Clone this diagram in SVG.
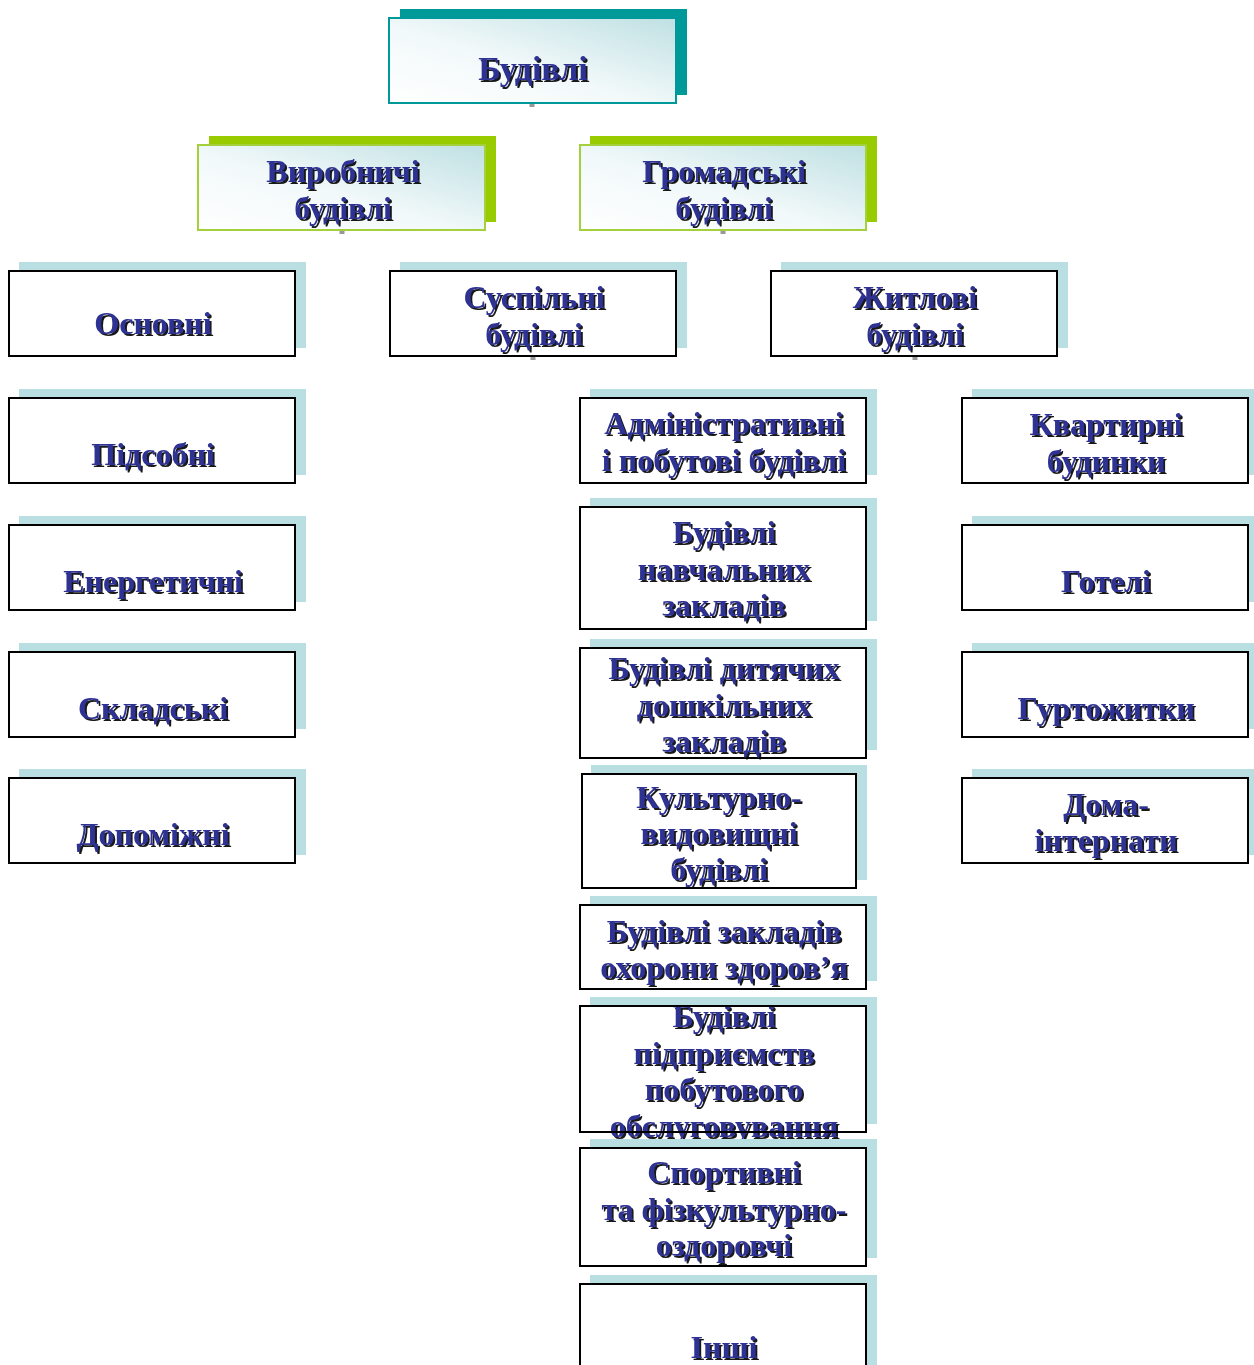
<svg xmlns="http://www.w3.org/2000/svg" width="1254" height="1365" viewBox="0 0 1254 1365">
<defs>
  <linearGradient id="grad" x1="0" y1="1" x2="1" y2="0">
    <stop offset="0" stop-color="#ffffff"/>
    <stop offset="0.45" stop-color="#f2f9fa"/>
    <stop offset="1" stop-color="#bfe0e3"/>
  </linearGradient>
  <filter id="ts" x="-5%" y="-20%" width="115%" height="150%">
    <feOffset in="SourceAlpha" dx="2" dy="2" result="off"/>
    <feFlood flood-color="#000000" flood-opacity="0.9"/>
    <feComposite in2="off" operator="in" result="sh"/>
    <feMerge><feMergeNode in="sh"/><feMergeNode in="SourceGraphic"/></feMerge>
  </filter>
  <style>
    .sh{fill:#b9dfe3}
    .box{fill:#ffffff;stroke:#000000;stroke-width:2}
    .bg{fill:#ffffff}
    .frame{fill:none;stroke:#000000;stroke-width:2}
    .tealsh{fill:#009999}
    .tealbox{fill:url(#grad);stroke:#009999;stroke-width:2}
    .greensh{fill:#99cc00}
    .greenbox{fill:url(#grad);stroke:#a4d03c;stroke-width:2}
    .lbl{font-family:"Liberation Serif","Times New Roman",serif;font-weight:bold;font-size:32px;fill:#2e3192;text-anchor:middle;filter:url(#ts)}
    .big{font-size:34px}
    .tick{stroke:#999999;stroke-width:5}
  </style>
</defs>
<rect width="1254" height="1365" fill="#ffffff"/>

<g id="connectors">
  <line class="tick" x1="532" y1="103" x2="532" y2="107"/>
  <line class="tick" x1="342" y1="230" x2="342" y2="234"/>
  <line class="tick" x1="723" y1="230" x2="723" y2="234"/>
  <line class="tick" x1="533" y1="356" x2="533" y2="360"/>
  <line class="tick" x1="915" y1="356" x2="915" y2="360"/>
</g>

<g id="n-budivli">
  <rect class="tealsh" x="400" y="9" width="287" height="86"/>
  <rect class="tealbox" x="389" y="18" width="287" height="85"/>
  <text class="lbl big" x="533" y="80">Будівлі</text>
</g>

<g id="n-vyrobnychi">
  <rect class="greensh" x="209" y="136" width="287" height="86"/>
  <rect class="greenbox" x="198" y="145" width="287" height="85"/>
  <text class="lbl" x="343" y="182">Виробничі</text>
  <text class="lbl" x="343" y="219">будівлі</text>
</g>

<g id="n-hromadski">
  <rect class="greensh" x="590" y="136" width="287" height="86"/>
  <rect class="greenbox" x="580" y="145" width="286" height="85"/>
  <text class="lbl" x="724" y="182">Громадські</text>
  <text class="lbl" x="724" y="219">будівлі</text>
</g>

<g id="n-osnovni">
  <rect class="sh" x="19" y="262" width="287" height="86"/>
  <rect class="box" x="9" y="271" width="286" height="85"/>
  <text class="lbl" x="153" y="334">Основні</text>
</g>

<g id="n-suspilni">
  <rect class="sh" x="400" y="262" width="287" height="86"/>
  <rect class="box" x="390" y="271" width="286" height="85"/>
  <text class="lbl" x="534" y="308">Суспільні</text>
  <text class="lbl" x="534" y="345">будівлі</text>
</g>

<g id="n-zhytlovi">
  <rect class="sh" x="781" y="262" width="287" height="86"/>
  <rect class="box" x="771" y="271" width="286" height="85"/>
  <text class="lbl" x="915" y="308">Житлові</text>
  <text class="lbl" x="915" y="345">будівлі</text>
</g>

<g id="n-pidsobni">
  <rect class="sh" x="19" y="389" width="287" height="86"/>
  <rect class="box" x="9" y="398" width="286" height="85"/>
  <text class="lbl" x="153" y="465">Підсобні</text>
</g>

<g id="n-enerhetychni">
  <rect class="sh" x="19" y="516" width="287" height="86"/>
  <rect class="box" x="9" y="525" width="286" height="85"/>
  <text class="lbl" x="153" y="592">Енергетичні</text>
</g>

<g id="n-skladski">
  <rect class="sh" x="19" y="643" width="287" height="86"/>
  <rect class="box" x="9" y="652" width="286" height="85"/>
  <text class="lbl" x="153" y="719">Складські</text>
</g>

<g id="n-dopomizhni">
  <rect class="sh" x="19" y="769" width="287" height="86"/>
  <rect class="box" x="9" y="778" width="286" height="85"/>
  <text class="lbl" x="153" y="845">Допоміжні</text>
</g>

<g id="n-kvartyrni">
  <rect class="sh" x="972" y="389" width="287" height="86"/>
  <rect class="box" x="962" y="398" width="286" height="85"/>
  <text class="lbl" x="1106" y="435">Квартирні</text>
  <text class="lbl" x="1106" y="472">будинки</text>
</g>

<g id="n-hoteli">
  <rect class="sh" x="972" y="516" width="287" height="86"/>
  <rect class="box" x="962" y="525" width="286" height="85"/>
  <text class="lbl" x="1106" y="592">Готелі</text>
</g>

<g id="n-hurtozhytky">
  <rect class="sh" x="972" y="643" width="287" height="86"/>
  <rect class="box" x="962" y="652" width="286" height="85"/>
  <text class="lbl" x="1106" y="719">Гуртожитки</text>
</g>

<g id="n-doma">
  <rect class="sh" x="972" y="769" width="287" height="86"/>
  <rect class="box" x="962" y="778" width="286" height="85"/>
  <text class="lbl" x="1106" y="815">Дома-</text>
  <text class="lbl" x="1106" y="851">інтернати</text>
</g>

<g id="n-admin">
  <rect class="sh" x="590" y="389" width="287" height="86"/>
  <rect class="box" x="580" y="398" width="286" height="85"/>
  <text class="lbl" x="724" y="434">Адміністративні</text>
  <text class="lbl" x="724" y="471">і побутові будівлі</text>
</g>

<g id="n-navchalni">
  <rect class="sh" x="590" y="498" width="287" height="123"/>
  <rect class="box" x="580" y="507" width="286" height="122"/>
  <text class="lbl" x="724" y="543">Будівлі</text>
  <text class="lbl" x="724" y="580">навчальних</text>
  <text class="lbl" x="724" y="616">закладів</text>
</g>

<g id="n-dytiachi">
  <rect class="sh" x="590" y="639" width="287" height="111"/>
  <rect class="box" x="580" y="648" width="286" height="110"/>
  <text class="lbl" x="724" y="679">Будівлі дитячих</text>
  <text class="lbl" x="724" y="716">дошкільних</text>
  <text class="lbl" x="724" y="752">закладів</text>
</g>

<g id="n-kulturni">
  <rect class="sh" x="591" y="765" width="276" height="115"/>
  <rect class="box" x="582" y="774" width="274" height="114"/>
  <text class="lbl" x="719" y="808">Культурно-</text>
  <text class="lbl" x="719" y="844">видовищні</text>
  <text class="lbl" x="719" y="880">будівлі</text>
</g>

<g id="n-zdorovia">
  <rect class="sh" x="590" y="896" width="287" height="85"/>
  <rect class="box" x="580" y="905" width="286" height="84"/>
  <text class="lbl" x="724" y="942">Будівлі закладів</text>
  <text class="lbl" x="724" y="978">охорони здоров’я</text>
</g>

<g id="n-pobutovi">
  <rect class="sh" x="590" y="997" width="287" height="127"/>
  <rect class="bg" x="580" y="1006" width="286" height="126"/>
  <text class="lbl" x="724" y="1027">Будівлі</text>
  <text class="lbl" x="724" y="1064">підприємств</text>
  <text class="lbl" x="724" y="1100">побутового</text>
  <text class="lbl" x="724" y="1137">обслуговування</text>
  <rect class="frame" x="580" y="1006" width="286" height="126"/>
</g>

<g id="n-sportyvni">
  <rect class="sh" x="590" y="1139" width="287" height="119"/>
  <rect class="box" x="580" y="1148" width="286" height="118"/>
  <text class="lbl" x="724" y="1183">Спортивні</text>
  <text class="lbl" x="724" y="1220">та фізкультурно-</text>
  <text class="lbl" x="724" y="1256">оздоровчі</text>
</g>

<g id="n-inshi">
  <rect class="sh" x="590" y="1275" width="287" height="100"/>
  <rect class="box" x="580" y="1284" width="286" height="100"/>
  <text class="lbl" x="724" y="1358">Інші</text>
</g>
</svg>
